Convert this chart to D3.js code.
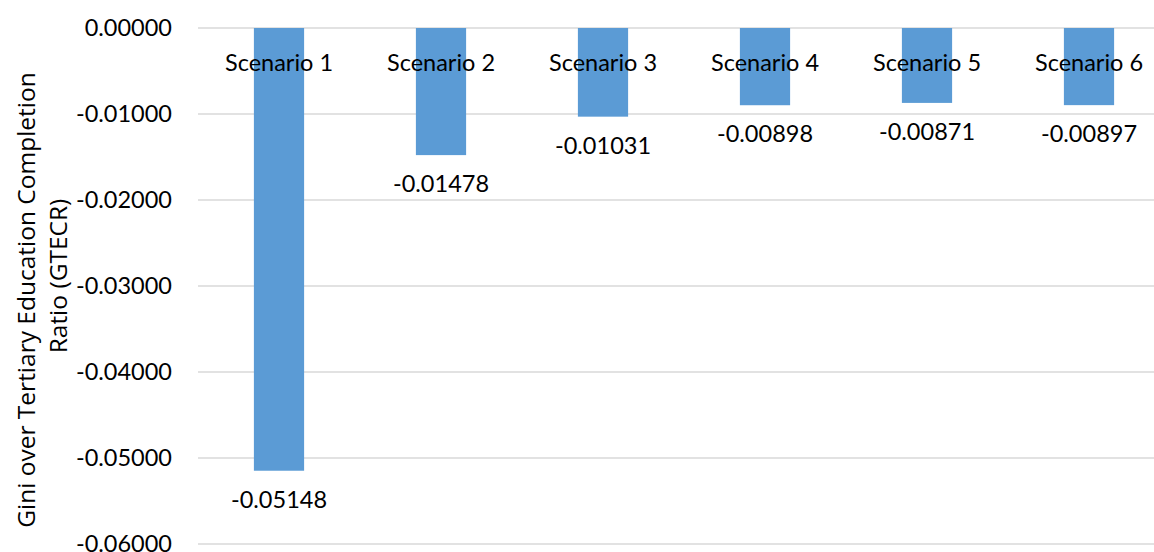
<!DOCTYPE html>
<html>
<head>
<meta charset="utf-8">
<script src="https://cdn.jsdelivr.net/npm/d3@7"></script>
<style>
  html, body { margin: 0; padding: 0; background: #fff; }
  svg text { font-family: Lato, "Liberation Sans", sans-serif; fill: #000; }
</style>
</head>
<body>
<svg id="chart" width="1154" height="552"></svg>
<script>
// Chart data
const categories = ["Scenario 1", "Scenario 2", "Scenario 3", "Scenario 4", "Scenario 5", "Scenario 6"];
const values = [-0.05148, -0.01478, -0.01031, -0.00898, -0.00871, -0.00897];
const valueLabels = ["-0.05148", "-0.01478", "-0.01031", "-0.00898", "-0.00871", "-0.00897"];
const yTicks = [0, -0.01, -0.02, -0.03, -0.04, -0.05, -0.06];
const yTitleLines = ["Gini over Tertiary Education Completion", "Ratio (GTECR)"];

(function () {
  const svg = d3.select("#chart");
  const plotLeft = 198, plotRight = 1170, plotTop = 28, plotBottom = 544;
  const labelSize = "23.5px";

  const x = d3.scaleBand().domain(categories).range([plotLeft, plotRight]).paddingInner(0.69).paddingOuter(0.345);
  const y = d3.scaleLinear().domain([-0.06, 0]).range([plotBottom, plotTop]);

  // Gridlines
  svg.append("g").selectAll("line").data(yTicks).join("line")
    .attr("x1", plotLeft).attr("x2", plotRight)
    .attr("y1", d => y(d)).attr("y2", d => y(d))
    .attr("stroke", "#d9d9d9").attr("stroke-width", 1.5);

  // Y axis labels
  const yAxis = d3.axisLeft(y).tickValues(yTicks).tickSize(0).tickPadding(26)
    .tickFormat(d => d3.format(".5f")(d).replace("\u2212", "-"));
  const gy = svg.append("g").attr("transform", `translate(${plotLeft},0)`).call(yAxis);
  gy.select(".domain").remove();
  gy.selectAll("text").style("font-size", labelSize).style("font-family", "Lato, sans-serif").attr("fill", "#000");

  // Bars
  svg.append("g").selectAll("rect").data(values).join("rect")
    .attr("x", (d, i) => x(categories[i]))
    .attr("width", x.bandwidth())
    .attr("y", y(0))
    .attr("height", d => y(d) - y(0))
    .attr("fill", "#5b9bd5");

  // Category labels near the zero line
  svg.append("g").selectAll("text").data(categories).join("text")
    .attr("x", d => x(d) + x.bandwidth() / 2)
    .attr("y", 71)
    .attr("text-anchor", "middle")
    .style("font-size", labelSize)
    .text(d => d);

  // Value labels below each bar
  svg.append("g").selectAll("text").data(values).join("text")
    .attr("x", (d, i) => x(categories[i]) + x.bandwidth() / 2)
    .attr("y", d => y(d) + 37)
    .attr("text-anchor", "middle")
    .style("font-size", labelSize)
    .text((d, i) => valueLabels[i]);

  // Y axis title, two lines
  const titlePos = [[35, 300], [67, 276]];
  svg.append("g").selectAll("text").data(yTitleLines).join("text")
    .attr("transform", (d, i) => `translate(${titlePos[i][0]},${titlePos[i][1]}) rotate(-90)`)
    .attr("text-anchor", "middle")
    .style("font-family", "'Open Sans', sans-serif")
    .style("font-size", "24.5px")
    .text(d => d);
})();
</script>
</body>
</html>
